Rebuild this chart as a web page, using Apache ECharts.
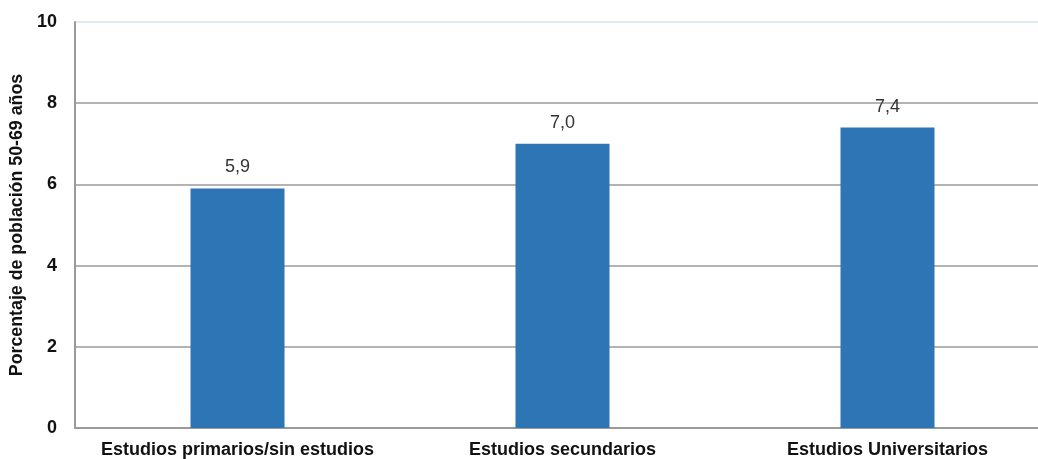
<!DOCTYPE html>
<html>
<head>
<meta charset="utf-8">
<script src="https://cdn.jsdelivr.net/npm/echarts@6/dist/echarts.min.js"></script>
<style>html,body{margin:0;padding:0;background:#fff}#c{width:1038px;height:459px}</style>
</head>
<body>
<div id="c"></div>
<script>
const categories = ["Estudios primarios/sin estudios", "Estudios secundarios", "Estudios Universitarios"];
const values = [5.9, 7.0, 7.4];
const yTicks = [0, 2, 4, 6, 8, 10];
const yName = "Porcentaje de población 50-69 años";

const FONT = 'Liberation Sans, Arial, sans-serif';
const chart = echarts.init(document.getElementById('c'));
chart.setOption({
  animation: false,
  grid: { left: 75, top: 22, width: 975, height: 406, containLabel: false, outerBoundsMode: 'none' },
  xAxis: {
    type: 'category',
    data: categories,
    axisLine: { lineStyle: { color: '#9a9a9a', width: 2 } },
    axisTick: { show: false },
    axisLabel: { interval: 0, hideOverlap: false, color: '#111', fontSize: 18, fontWeight: 'bold', fontFamily: FONT, margin: 13 }
  },
  yAxis: {
    type: 'value',
    min: yTicks[0], max: yTicks[yTicks.length - 1], interval: 2,
    name: yName,
    nameLocation: 'middle',
    nameGap: 49,
    nameTextStyle: { color: '#111', fontSize: 17.8, fontWeight: 'bold', fontFamily: FONT },
    axisLine: { show: true, lineStyle: { color: '#9a9a9a', width: 2 } },
    axisTick: { show: false },
    axisLabel: { color: '#111', fontSize: 18, fontWeight: 'bold', fontFamily: FONT, margin: 18 },
    splitLine: {
      lineStyle: {
        width: 1.5,
        color: ['#9a9a9a', '#9a9a9a', '#9a9a9a', '#9a9a9a', '#9a9a9a', '#d3e4eb']
      }
    }
  },
  series: [{
    type: 'bar',
    data: values,
    barWidth: 94,
    itemStyle: { color: '#2E75B6' },
    label: {
      show: true, position: 'top', distance: 12,
      color: '#333', fontSize: 18, fontFamily: FONT,
      formatter: p => p.value.toFixed(1).replace('.', ',')
    }
  }]
});
</script>
</body>
</html>
